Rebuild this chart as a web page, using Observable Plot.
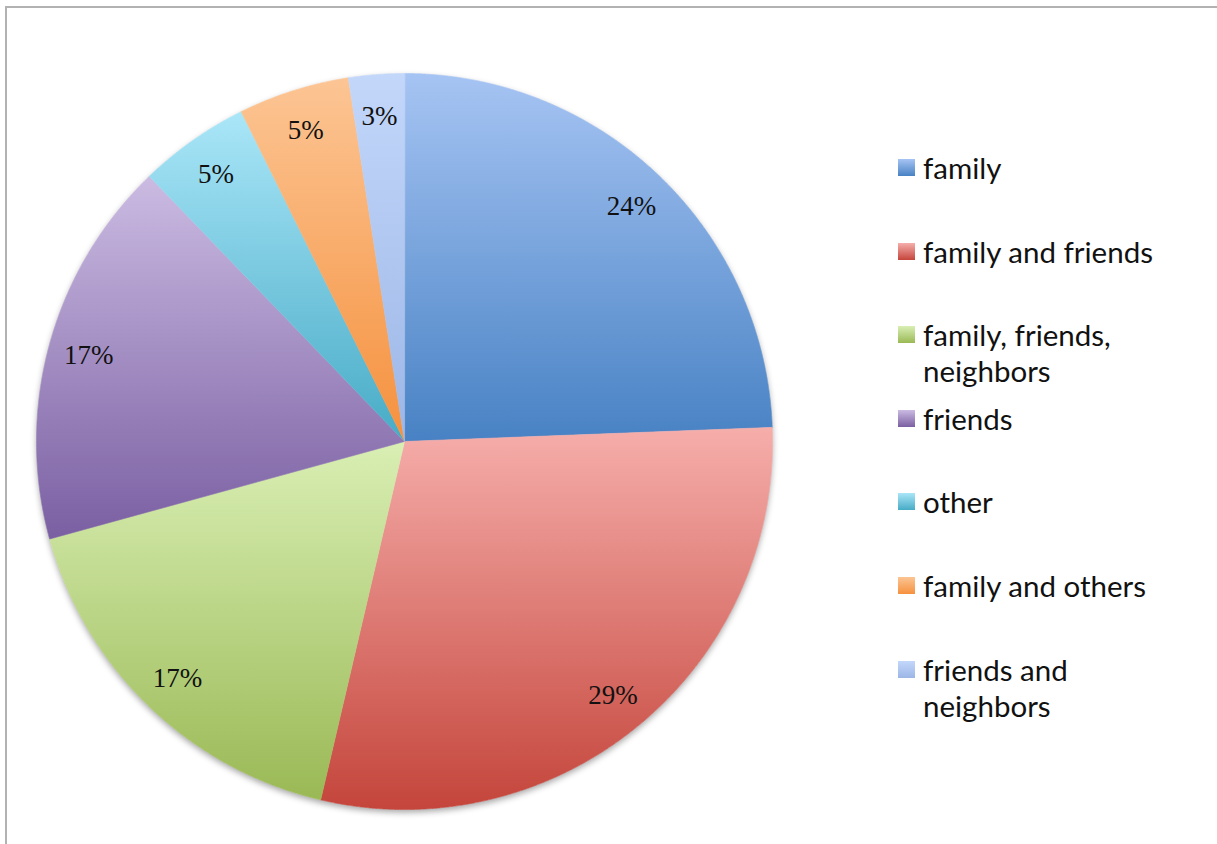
<!DOCTYPE html>
<html>
<head>
<meta charset="utf-8">
<script src="https://cdn.jsdelivr.net/npm/d3@7"></script>
<script src="https://cdn.jsdelivr.net/npm/@observablehq/plot@0.6"></script>
<style>
  html, body { margin: 0; padding: 0; background: #fff; }
  #wrap { position: relative; width: 1217px; height: 844px; overflow: hidden; }
  #frame { position: absolute; left: 5px; top: 6px; right: 0; bottom: 0; border-top: 2px solid #b2b2b2; border-left: 2px solid #b2b2b2; }
  #chart { position: absolute; left: 0; top: 0; }
  #legend { position: absolute; left: 0; top: 0; width: 1217px; font-family: Lato, "Open Sans", sans-serif; font-size: 29.5px; color: #111; }
  .item { position: absolute; left: 898px; width: 310px; display: flex; align-items: flex-start; }
  .sw { width: 17px; height: 17px; margin-top: 9px; margin-right: 8px; flex: none; }
  .lbl { width: 250px; line-height: 36px; }
</style>
</head>
<body>
<div id="wrap"><div id="frame"></div><div id="chart"></div><div id="legend"></div></div>
<script>
const categories = ["family", "family and friends", "family, friends, neighbors", "friends", "other", "family and others", "friends and neighbors"];
const values = [10, 12, 7, 7, 2, 2, 1];
const labels = ["24%", "29%", "17%", "17%", "5%", "5%", "3%"];
const colorTop = ["#a6c4f3", "#f6aeab", "#d9efb4", "#cbbbe2", "#aae6f8", "#fcc594", "#c3d7fa"];
const colorBottom = ["#4882c4", "#c4453b", "#9ab955", "#7a5fa2", "#47abc6", "#f5913e", "#9cb6e6"];

// layout
const W = 1217, H = 844, CX = 404, CY = 441, R = 368, LABEL_R = 0.89;

const arcs = d3.pie().sort(null).value(d => d)(values);
const slices = arcs.map((a, i) => {
  const n = Math.max(2, Math.ceil((a.endAngle - a.startAngle) / 0.004));
  const pts = [{x: 0, y: 0}];
  for (let k = 0; k <= n; k++) {
    const t = a.startAngle + (a.endAngle - a.startAngle) * k / n;
    pts.push({x: Math.sin(t), y: Math.cos(t)});
  }
  return pts;
});
const labelPos = arcs.map((a, i) => {
  const m = (a.startAngle + a.endAngle) / 2;
  return {x: LABEL_R * Math.sin(m), y: LABEL_R * Math.cos(m), text: labels[i]};
});

const marks = [
  Plot.dot([{x: 0, y: 0}], {x: "x", y: "y", r: R, fill: "white", stroke: "none", className: "shadow"})
];
slices.forEach((pts, i) => {
  marks.push(Plot.line(pts, {x: "x", y: "y", curve: "linear-closed", fill: `url(#g${i})`, stroke: `url(#g${i})`, strokeWidth: 0.6}));
});
marks.push(Plot.text(labelPos, {x: "x", y: "y", dy: 1, text: "text", fontFamily: "Liberation Serif, Times New Roman, serif", fontSize: 27, fill: "#111"}));

const plot = Plot.plot({
  width: W, height: H,
  margin: 0,
  x: {domain: [-1, 1], range: [CX - R, CX + R], axis: null},
  y: {domain: [-1, 1], range: [CY + R, CY - R], axis: null},
  style: {background: "transparent", overflow: "visible"},
  marks
});

// gradients
const ns = "http://www.w3.org/2000/svg";
const defs = document.createElementNS(ns, "defs");
categories.forEach((c, i) => {
  const g = document.createElementNS(ns, "linearGradient");
  g.setAttribute("id", `g${i}`);
  g.setAttribute("x1", "0"); g.setAttribute("y1", "0"); g.setAttribute("x2", "0"); g.setAttribute("y2", "1");
  [[0, colorTop[i]], [1, colorBottom[i]]].forEach(([o, col]) => {
    const s = document.createElementNS(ns, "stop");
    s.setAttribute("offset", o); s.setAttribute("stop-color", col);
    g.appendChild(s);
  });
  defs.appendChild(g);
});
plot.insertBefore(defs, plot.firstChild);
const sh = document.createElement("style");
sh.textContent = ".shadow circle { filter: drop-shadow(0px 3px 3px rgba(0,0,0,0.35)); }";
document.head.appendChild(sh);
document.getElementById("chart").appendChild(plot);

// legend
const legend = document.getElementById("legend");
categories.forEach((c, i) => {
  const it = document.createElement("div");
  it.className = "item";
  it.style.top = (150 + i * 83.6) + "px";
  it.innerHTML = `<div class="sw" style="background: linear-gradient(${colorTop[i]}, ${colorBottom[i]})"></div><div class="lbl">${c}</div>`;
  legend.appendChild(it);
});
</script>
</body>
</html>
